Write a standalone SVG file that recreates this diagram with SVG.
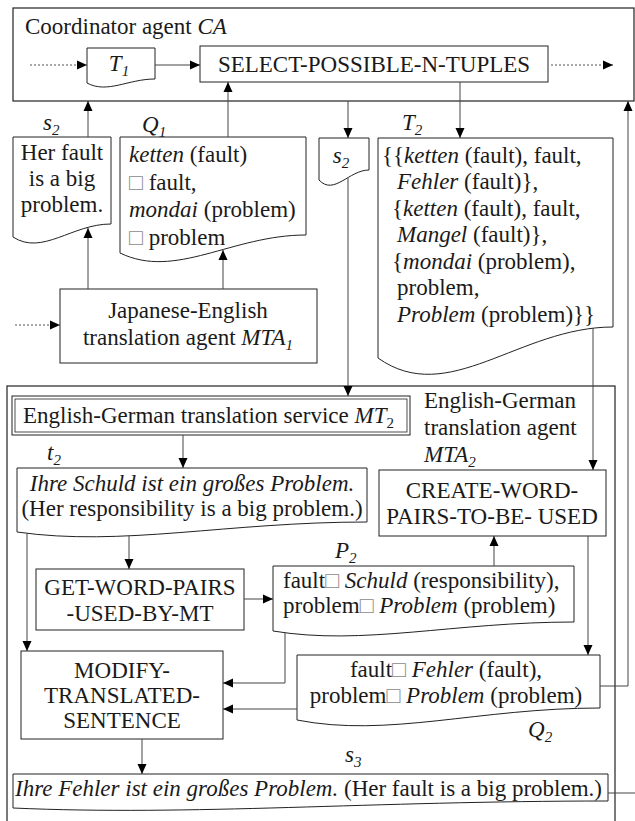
<svg xmlns="http://www.w3.org/2000/svg" width="635" height="821" viewBox="0 0 635 821">
<style>
.t{font-family:"Liberation Serif","Times New Roman",serif;font-size:23px;fill:#1a1a1a}
.i{font-style:italic}
.s{font-size:15px}
.c{text-anchor:middle}
.sq{fill:#8a8a8a}
.box{fill:#fff;stroke:#222;stroke-width:1}
.cont{fill:none;stroke:#222;stroke-width:1.2}
.ln{fill:none;stroke:#444;stroke-width:1}
.dot{fill:none;stroke:#555;stroke-width:1;stroke-dasharray:2 2}
</style>
<defs>
<marker id="ah" markerUnits="userSpaceOnUse" markerWidth="10" markerHeight="10" refX="10" refY="5" orient="auto">
<path d="M0,0.5 L10,5 L0,9.5 Z" fill="#000"/>
</marker>
</defs>

<g id="containers">
<rect id="coordinator" class="cont" x="13" y="8" width="621" height="93"/>
<rect id="mta2-container" class="cont" x="7" y="386" width="608" height="440"/>
</g>

<g id="coordinator-label">
<text class="t" x="25" y="34">Coordinator agent <tspan class="i">CA</tspan></text>
</g>

<g id="T1">
<path class="box" d="M87,48 H155 V79 C127.8,79 107.4,94 87,83 Z"/>
<text class="t i c" x="119" y="71">T<tspan class="s" dy="5">1</tspan></text>
</g>

<g id="select">
<rect class="box" x="200" y="46" width="348" height="36"/>
<text class="t c" x="374" y="72">SELECT-POSSIBLE-N-TUPLES</text>
</g>

<g id="s2-left">
<text class="t i" x="43" y="130">s<tspan class="s" dy="5">2</tspan></text>
<path class="box" d="M13,137 H111 V224 C71.8,224 42.4,256 13,237 Z"/>
<text class="t c" x="62" y="160">Her fault</text>
<text class="t c" x="62" y="186">is a big</text>
<text class="t c" x="62" y="212">problem.</text>
</g>

<g id="Q1">
<text class="t i" x="142" y="132">Q<tspan class="s" dy="5">1</tspan></text>
<path class="box" d="M120,137 H306 V235 C231.6,235 175.8,280 120,253 Z"/>
<text class="t" x="129" y="162"><tspan class="i">ketten</tspan> (fault)</text>
<text class="t" x="129" y="190"><tspan class="sq">□</tspan> fault,</text>
<text class="t" x="129" y="217"><tspan class="i">mondai</tspan> (problem)</text>
<text class="t" x="129" y="245"><tspan class="sq">□</tspan> problem</text>
</g>

<g id="s2-mid">
<path class="box" d="M319,138 H369 V170 C349,170 334,196 319,180 Z"/>
<text class="t i c" x="341" y="163">s<tspan class="s" dy="5">2</tspan></text>
</g>

<g id="T2">
<text class="t i" x="402" y="130">T<tspan class="s" dy="5">2</tspan></text>
<path class="box" d="M378,138 H613 V327 C519,327 448.5,408 378,358 Z"/>
<text class="t" x="382" y="163">{{<tspan class="i">ketten</tspan> (fault), fault,</text>
<text class="t" x="397" y="189"><tspan class="i">Fehler</tspan> (fault)},</text>
<text class="t" x="392" y="216">{<tspan class="i">ketten</tspan> (fault), fault,</text>
<text class="t" x="397" y="242"><tspan class="i">Mangel</tspan> (fault)},</text>
<text class="t" x="392" y="269">{<tspan class="i">mondai</tspan> (problem),</text>
<text class="t" x="397" y="295">problem,</text>
<text class="t" x="397" y="322"><tspan class="i">Problem</tspan> (problem)}}</text>
</g>

<g id="mta1">
<rect class="box" x="60" y="289" width="257" height="74"/>
<text class="t c" x="188" y="318">Japanese-English</text>
<text class="t c" x="188" y="345">translation agent <tspan class="i">MTA</tspan><tspan class="s i" dy="5">1</tspan></text>
</g>

<g id="mt2">
<rect class="box" x="12" y="396" width="398" height="39" stroke-width="1.6"/>
<rect x="15" y="399" width="392" height="33" fill="none" stroke="#222" stroke-width="0.8"/>
<text class="t" x="23" y="423">English-German translation service <tspan class="i">MT</tspan><tspan class="s" dy="5">2</tspan></text>
</g>

<g id="mta2-label">
<text class="t" x="424" y="408">English-German</text>
<text class="t" x="424" y="435">translation agent</text>
<text class="t i" x="424" y="462">MTA<tspan class="s" dy="5">2</tspan></text>
</g>

<g id="t2">
<text class="t i" x="47" y="460">t<tspan class="s" dy="5">2</tspan></text>
<path class="box" d="M17,468 H367 V522 C227,522 122,547 17,532 Z"/>
<text class="t i c" x="192" y="491">Ihre Schuld ist ein großes Problem.</text>
<text class="t c" x="192" y="516">(Her responsibility is a big problem.)</text>
</g>

<g id="create">
<rect class="box" x="379" y="470" width="227" height="66"/>
<text class="t c" x="492" y="498">CREATE-WORD-</text>
<text class="t c" x="492" y="524">PAIRS-TO-BE- USED</text>
</g>

<g id="get">
<rect class="box" x="36" y="569" width="208" height="61"/>
<text class="t c" x="140" y="595">GET-WORD-PAIRS</text>
<text class="t c" x="140" y="621">-USED-BY-MT</text>
</g>

<g id="P2">
<text class="t i" x="335" y="558">P<tspan class="s" dy="5">2</tspan></text>
<path class="box" d="M273,566 H574 V622 C453.6,622 363.3,646 273,631 Z"/>
<text class="t" x="283" y="588">fault<tspan class="sq">□</tspan> <tspan class="i">Schuld</tspan> (responsibility),</text>
<text class="t" x="283" y="613">problem<tspan class="sq">□</tspan> <tspan class="i">Problem</tspan> (problem)</text>
</g>

<g id="modify">
<rect class="box" x="21" y="651" width="202" height="88"/>
<text class="t c" x="122" y="678">MODIFY-</text>
<text class="t c" x="122" y="703">TRANSLATED-</text>
<text class="t c" x="122" y="728">SENTENCE</text>
</g>

<g id="Q2">
<path class="box" d="M297,655 H600 V708 C478.8,708 387.9,738 297,720 Z"/>
<text class="t c" x="446" y="677">fault<tspan class="sq">□</tspan> <tspan class="i">Fehler</tspan> (fault),</text>
<text class="t c" x="446" y="703">problem<tspan class="sq">□</tspan> <tspan class="i">Problem</tspan> (problem)</text>
<text class="t i" x="528" y="737">Q<tspan class="s" dy="5">2</tspan></text>
</g>

<g id="s3">
<text class="t i" x="345" y="762">s<tspan class="s" dy="5">3</tspan></text>
<path class="box" d="M13,774 H608 V801 C370,801 191.5,816 13,808 Z"/>
<text class="t" x="15" y="796"><tspan class="i">Ihre Fehler ist ein großes Problem.</tspan> (Her fault is a big problem.)</text>
</g>

<g id="connectors">
<line class="dot" x1="30" y1="65" x2="87" y2="65" marker-end="url(#ah)"/>
<line class="ln" x1="155" y1="65" x2="200" y2="65" marker-end="url(#ah)"/>
<line class="dot" x1="551" y1="65" x2="613" y2="65" marker-end="url(#ah)"/>
<line class="ln" x1="88" y1="137" x2="88" y2="101" marker-end="url(#ah)"/>
<line class="ln" x1="228" y1="137" x2="228" y2="82" marker-end="url(#ah)"/>
<line class="ln" x1="348" y1="101" x2="348" y2="138" marker-end="url(#ah)"/>
<line class="ln" x1="460" y1="82" x2="460" y2="138" marker-end="url(#ah)"/>
<line class="ln" x1="88" y1="289" x2="88" y2="228" marker-end="url(#ah)"/>
<line class="ln" x1="223" y1="289" x2="223" y2="250" marker-end="url(#ah)"/>
<line class="dot" x1="15" y1="325" x2="60" y2="325" marker-end="url(#ah)"/>
<line class="ln" x1="348" y1="178" x2="348" y2="396" marker-end="url(#ah)"/>
<line class="ln" x1="593" y1="328" x2="593" y2="470" marker-end="url(#ah)"/>
<line class="ln" x1="183" y1="435" x2="183" y2="468" marker-end="url(#ah)"/>
<line class="ln" x1="129" y1="536" x2="129" y2="569" marker-end="url(#ah)"/>
<line class="ln" x1="27" y1="533" x2="27" y2="651" marker-end="url(#ah)"/>
<line class="ln" x1="244" y1="599" x2="273" y2="599" marker-end="url(#ah)"/>
<line class="ln" x1="494" y1="566" x2="494" y2="536" marker-end="url(#ah)"/>
<polyline class="ln" points="285,633 285,683 223,683" marker-end="url(#ah)"/>
<line class="ln" x1="588" y1="536" x2="588" y2="655" marker-end="url(#ah)"/>
<line class="ln" x1="297" y1="709" x2="223" y2="709" marker-end="url(#ah)"/>
<polyline class="ln" points="600,686 628,686 628,101" marker-end="url(#ah)"/>
<line class="ln" x1="142" y1="739" x2="142" y2="774" marker-end="url(#ah)"/>
<line class="ln" x1="608" y1="793" x2="635" y2="793"/>
</g>
</svg>
